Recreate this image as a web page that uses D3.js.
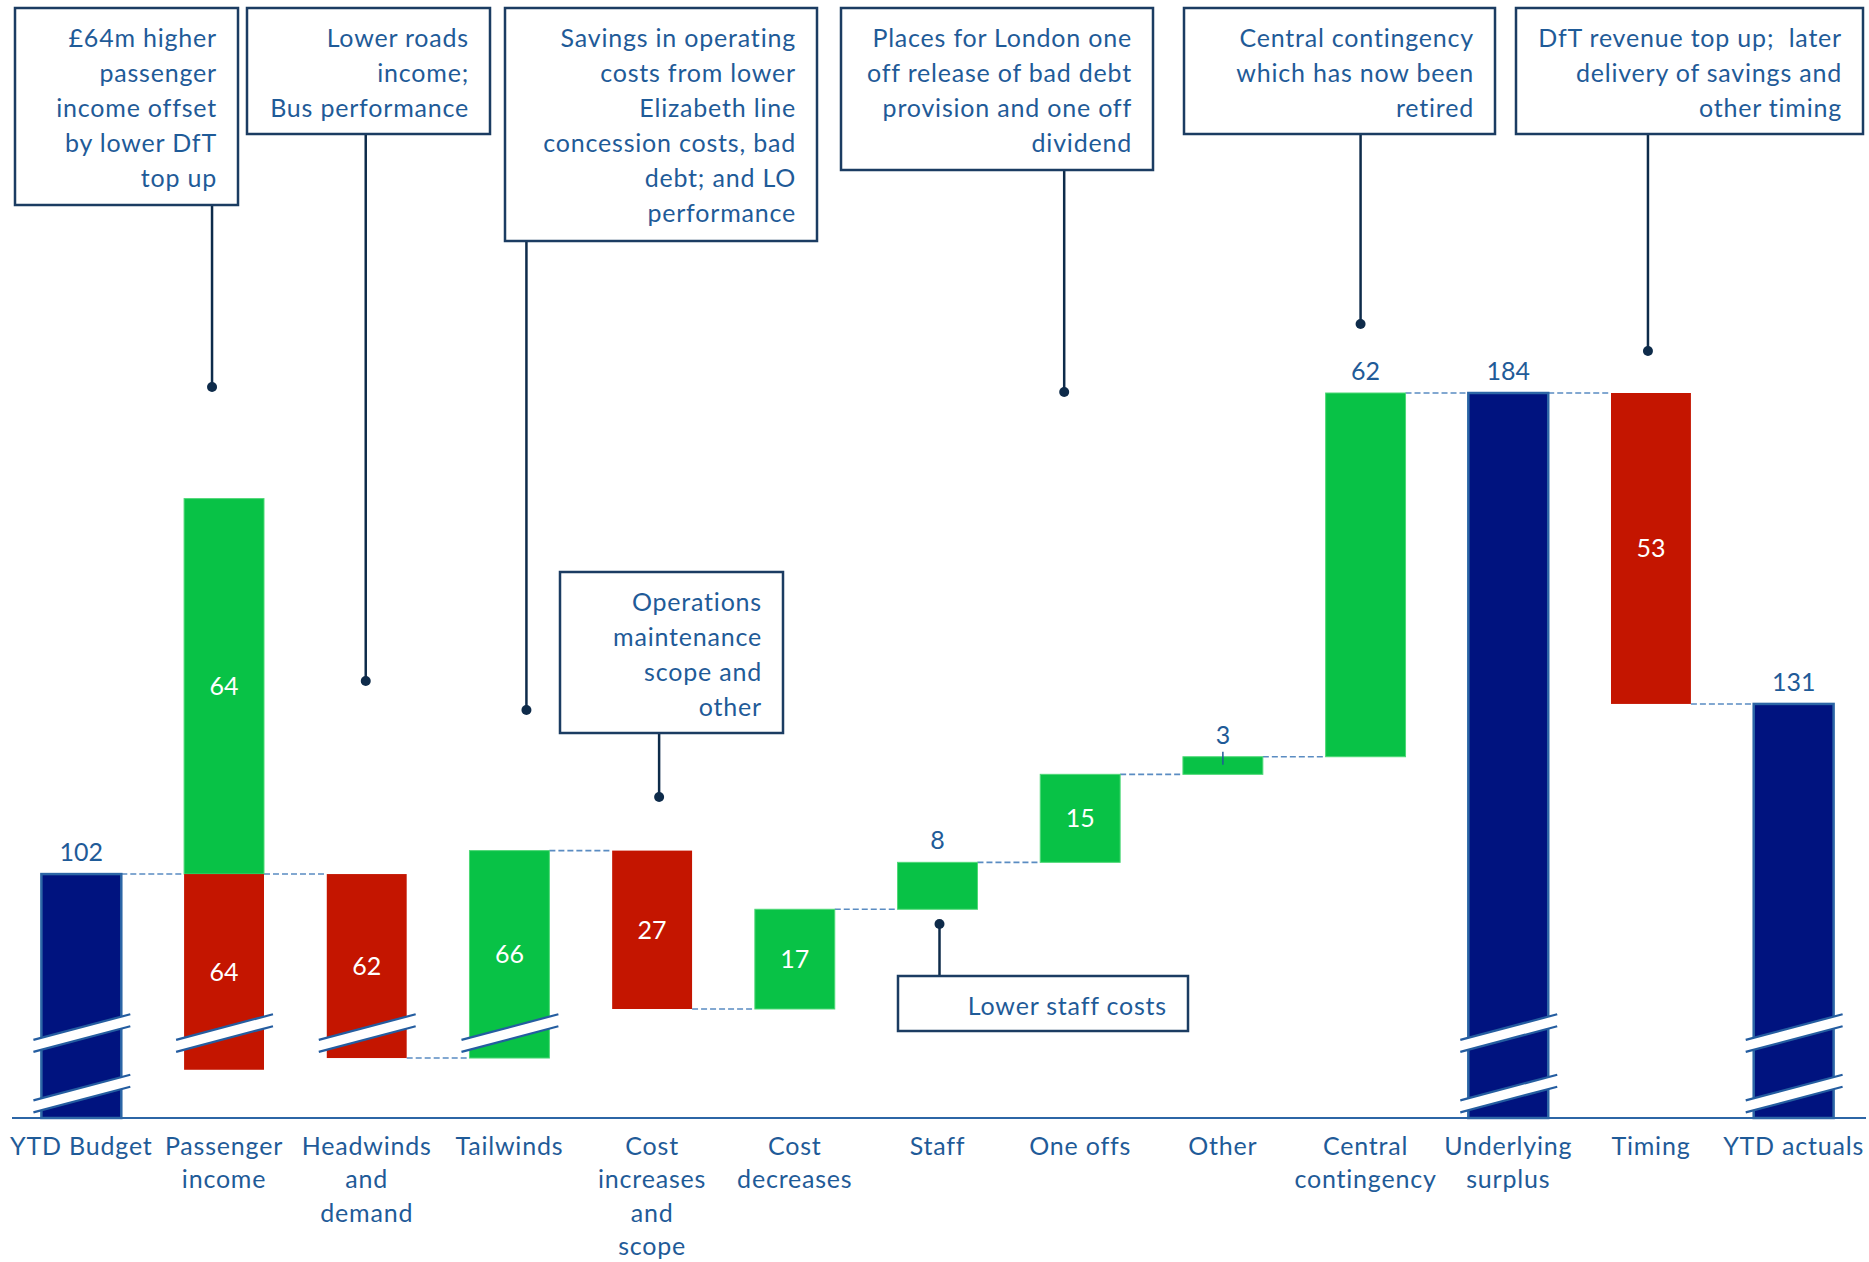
<!DOCTYPE html>
<html>
<head>
<meta charset="utf-8">
<script src="https://cdn.jsdelivr.net/npm/d3@7"></script>
<style>
  body { margin: 0; background: #fff; }
  text { font-family: Lato, "Open Sans", sans-serif; }
  .lbl { letter-spacing: 0.8px; white-space: pre; }
</style>
</head>
<body>
<div id="chart"></div>
<script>
// waterfall data (£m)
const categories = ["YTD Budget", "Passenger income", "Headwinds and demand", "Tailwinds",
  "Cost increases and scope", "Cost decreases", "Staff", "One offs", "Other",
  "Central contingency", "Underlying surplus", "Timing", "YTD actuals"]
const categoryLines = [["YTD Budget"], ["Passenger", "income"], ["Headwinds", "and", "demand"], ["Tailwinds"],
  ["Cost", "increases", "and", "scope"], ["Cost", "decreases"], ["Staff"], ["One offs"], ["Other"],
  ["Central", "contingency"], ["Underlying", "surplus"], ["Timing"], ["YTD actuals"]]
const totals = [102, null, null, null, null, null, null, null, null, null, 184, null, 131]
const increases = [0, 64, 0, 66, 0, 17, 8, 15, 3, 62, 0, 0, 0]
const decreases = [0, 64, 62, 0, 27, 0, 0, 0, 0, 0, 0, 53, 0]
// labels drawn above the bar instead of inside
const labelAbove = ["Staff", "Other", "Central contingency"]
// values where the axis is broken (drawn as slashes)
const breakValues = [24, 55]

// annotation texts and the bar they point at
const noteCategories = ["Passenger income", "Headwinds and demand", "Tailwinds", "Cost increases and scope",
  "One offs", "Central contingency", "Timing", "Staff"]
const noteTexts = [
  ["£64m higher", "passenger", "income offset", "by lower DfT", "top up"],
  ["Lower roads", "income;", "Bus performance"],
  ["Savings in operating", "costs from lower", "Elizabeth line", "concession costs, bad", "debt; and LO", "performance"],
  ["Operations", "maintenance", "scope and", "other"],
  ["Places for London one", "off release of bad debt", "provision and one off", "dividend"],
  ["Central contingency", "which has now been", "retired"],
  ["DfT revenue top up;  later", "delivery of savings and", "other timing"],
  ["Lower staff costs"]
]
// box layout: x, y, w, h, dot offset from bar centre, dot y
const noteLayout = [
  [15, 8, 223, 197, -12, 387],
  [247, 8, 243, 126, -1, 681],
  [505, 8, 312, 233, 17, 710],
  [560, 572, 223, 161, 7, 797],
  [841, 8, 312, 162, -16, 392],
  [1184, 8, 311, 126, -5, 324],
  [1516, 8, 347, 126, -3, 351],
  [898, 976, 290, 55, 2, 924]
]

const W = 1869, H = 1262
const axisY = 1118
const colors = { total: "#00137f", up: "#08c246", down: "#c41500" }
const textBlue = "#1f5b98"
const boxStroke = "#1b3c62"
const leader = "#0e2b4a"

const svg = d3.select("#chart").append("svg")
  .attr("width", W).attr("height", H)
  .style("background", "#fff")

const x = d3.scaleBand()
  .domain(categories)
  .range([10, 1865])
  .paddingInner(0.44)
  .paddingOuter(0.22)

// broken axis: two compressed stretches [0,36] and [42,79]
const y = d3.scaleLinear()
  .domain([0, 36, 42, 79, 184])
  .range([axisY, 1081.5, 1046.3, 1009, 393])

// build segments
const segs = []
const links = []
let level = 0
categories.forEach((c, i) => {
  if (totals[i] != null) {
    segs.push({ cat: c, lo: 0, hi: totals[i], kind: "total", v: totals[i] })
    level = totals[i]
  } else {
    if (increases[i] > 0) segs.push({ cat: c, lo: level, hi: level + increases[i], kind: "up", v: increases[i] })
    if (decreases[i] > 0) segs.push({ cat: c, lo: level - decreases[i], hi: level, kind: "down", v: decreases[i] })
    level = level + increases[i] - decreases[i]
  }
  if (i < categories.length - 1) links.push({ from: c, to: categories[i + 1], v: level })
})

const bw = x.bandwidth()

// dashed connectors
svg.append("g").selectAll("line")
  .data(links)
  .enter().append("line")
  .attr("x1", d => x(d.from) + bw)
  .attr("x2", d => x(d.to))
  .attr("y1", d => y(d.v)).attr("y2", d => y(d.v))
  .attr("stroke", "#5a8cc2")
  .attr("stroke-width", 1.6)
  .attr("stroke-dasharray", "6,3")

// bars
svg.append("g").selectAll("rect")
  .data(segs)
  .enter().append("rect")
  .attr("x", d => x(d.cat))
  .attr("y", d => y(d.hi))
  .attr("width", bw)
  .attr("height", d => y(d.lo) - y(d.hi))
  .attr("fill", d => colors[d.kind])
  .attr("stroke", d => d.kind === "total" ? "#2c66a6" : d.kind === "up" ? "#4fd877" : "none")
  .attr("stroke-width", d => d.kind === "total" ? 2.5 : 1)

// axis break slashes
const slope = 0.265
const breaks = []
segs.forEach(d => breakValues.forEach(b => { if (d.lo < b && d.hi > b) breaks.push({ cat: d.cat, b }) }))
const gBreak = svg.append("g")
breaks.forEach(d => {
  const cx = x(d.cat) + bw / 2
  const c = y(d.b)
  const l = x(d.cat) - 8, r = x(d.cat) + bw + 9
  const yl = c + (cx - l) * slope, yr = c - (r - cx) * slope
  gBreak.append("polygon")
    .attr("points", `${l},${yl - 6} ${r},${yr - 6} ${r},${yr + 6} ${l},${yl + 6}`)
    .attr("fill", "#fff")
  ;[-6, 6].forEach(o => {
    gBreak.append("line")
      .attr("x1", l).attr("y1", yl + o).attr("x2", r).attr("y2", yr + o)
      .attr("stroke", "#245da0").attr("stroke-width", 2.2)
  })
})

// x axis line
svg.append("line")
  .attr("x1", 12).attr("x2", 1866)
  .attr("y1", axisY).attr("y2", axisY)
  .attr("stroke", "#2c66a6").attr("stroke-width", 2)

// category labels
const gCat = svg.append("g")
categories.forEach((c, i) => {
  const t = gCat.append("text")
    .attr("class", "lbl")
    .attr("x", x(c) + bw / 2)
    .attr("y", 1155)
    .attr("text-anchor", "middle")
    .attr("fill", textBlue)
    .style("font-size", "25px")
  categoryLines[i].forEach((s, k) => {
    t.append("tspan").attr("x", x(c) + bw / 2).attr("dy", k === 0 ? 0 : 33.3).text(s)
  })
})

// value labels
svg.append("g").selectAll("text")
  .data(segs)
  .enter().append("text")
  .attr("x", d => x(d.cat) + bw / 2)
  .attr("y", d => (d.kind === "total" || labelAbove.includes(d.cat))
    ? y(d.hi) - 13
    : (y(d.hi) + y(d.lo)) / 2 + 9)
  .attr("text-anchor", "middle")
  .attr("fill", d => (d.kind === "total" || labelAbove.includes(d.cat)) ? textBlue : "#fff")
  .style("font-size", "25px")
  .text(d => d.v)

// small leader for the "Other" label
svg.append("line")
  .attr("x1", x("Other") + bw / 2).attr("x2", x("Other") + bw / 2)
  .attr("y1", y(122) - 5).attr("y2", y(122) + 8)
  .attr("stroke", textBlue).attr("stroke-width", 1.5)

// annotation boxes with leaders
const gNote = svg.append("g")
noteCategories.forEach((c, i) => {
  const [bx, by, bwid, bh, dx, dotY] = noteLayout[i]
  const px = x(c) + bw / 2 + dx
  const fromY = dotY < by ? by : by + bh
  gNote.append("line")
    .attr("x1", px).attr("x2", px)
    .attr("y1", fromY).attr("y2", dotY)
    .attr("stroke", leader).attr("stroke-width", 2.5)
  gNote.append("circle")
    .attr("cx", px).attr("cy", dotY).attr("r", 5)
    .attr("fill", leader)
  gNote.append("rect")
    .attr("x", bx).attr("y", by)
    .attr("width", bwid).attr("height", bh)
    .attr("fill", "#fff")
    .attr("stroke", boxStroke).attr("stroke-width", 2.5)
  const t = gNote.append("text")
    .attr("class", "lbl")
    .attr("text-anchor", "end")
    .attr("fill", textBlue)
    .style("font-size", "25px")
  noteTexts[i].forEach((s, k) => {
    t.append("tspan")
      .attr("x", bx + bwid - 21)
      .attr("y", by + 39 + k * 35)
      .text(s)
  })
})
</script>
</body>
</html>
